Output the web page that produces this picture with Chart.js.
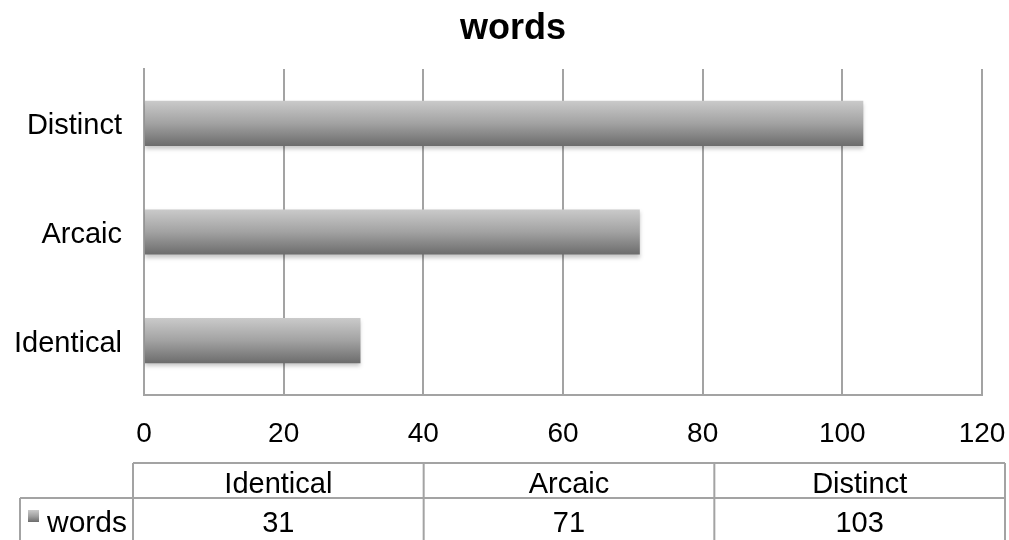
<!DOCTYPE html>
<html>
<head>
<meta charset="utf-8">
<title>words</title>
<script src="https://cdn.jsdelivr.net/npm/chart.js@4.4.1/dist/chart.umd.min.js"></script>
<style>
  html, body { margin: 0; padding: 0; background: #fff; }
  #wrap { width: 1009px; height: 540px; position: relative; }
</style>
</head>
<body>
<div id="wrap"><canvas id="chart" width="1009" height="540"></canvas></div>
<script>
// Word counts per category
const categories = ['Identical', 'Arcaic', 'Distinct'];
const seriesName = 'words';
const wordCounts = [31, 71, 103];
const xTicks = [0, 20, 40, 60, 80, 100, 120];

const FONT = '"Liberation Sans", Arial, Helvetica, sans-serif';
const LINE = '#a3a3a3';
const BAR_PCT = 0.415;

function barGradient(ctx, top, bottom) {
  const g = ctx.createLinearGradient(0, top, 0, bottom);
  g.addColorStop(0, '#cacaca');
  g.addColorStop(0.5, '#a2a2a2');
  g.addColorStop(1, '#6c6c6c');
  return g;
}

// Vertical gradient per bar, placed from the category scale
function barFill(ctx) {
  const chart = ctx.chart;
  const y = chart.scales && chart.scales.y;
  if (!y || ctx.dataIndex === undefined) return '#a2a2a2';
  const center = y.getPixelForValue(ctx.dataIndex);
  const half = (y.height / categories.length) * BAR_PCT / 2;
  if (!Number.isFinite(center) || !Number.isFinite(half)) return '#a2a2a2';
  return barGradient(chart.ctx, center - half, center + half);
}

// The category labels are long; let them use the space left of the padded layout
const labelRoom = {
  id: 'labelRoom',
  afterLayout(chart) {
    const y = chart.scales.y;
    y.left = 0;
    y.width = y.right;
  }
};

// Soft shadow under the bars
const barShadow = {
  id: 'barShadow',
  beforeDatasetDraw(chart) {
    const c = chart.ctx;
    c.save();
    c.shadowColor = 'rgba(0,0,0,0.22)';
    c.shadowBlur = 4;
    c.shadowOffsetY = 3;
  },
  afterDatasetDraw(chart) {
    chart.ctx.restore();
  }
};

// Data table below the axis, with the series key in the first column
const dataTable = {
  id: 'dataTable',
  afterDraw(chart) {
    const c = chart.ctx;
    const area = chart.chartArea;
    const left = area.left - 11;
    const right = chart.width - 4;
    const keyLeft = 20;
    const rowTop = 463;
    const rowMid = 498;
    const rowBottom = chart.height;
    const colW = (right - left) / categories.length;

    c.save();
    c.strokeStyle = LINE;
    c.lineWidth = 2;
    c.beginPath();
    c.moveTo(left, rowTop); c.lineTo(right, rowTop);
    c.moveTo(keyLeft, rowMid); c.lineTo(right, rowMid);
    for (let i = 0; i <= categories.length; i++) {
      const x = left + colW * i;
      c.moveTo(x, rowTop); c.lineTo(x, rowBottom);
    }
    c.moveTo(keyLeft, rowMid); c.lineTo(keyLeft, rowBottom);
    c.stroke();

    c.fillStyle = '#000';
    c.font = '29px ' + FONT;
    c.textAlign = 'center';
    c.textBaseline = 'middle';
    categories.forEach((cat, i) => {
      const cx = left + colW * (i + 0.5);
      c.fillText(cat, cx, 485);
      c.fillText(String(wordCounts[i]), cx, 524);
    });

    // series key
    c.fillStyle = barGradient(c, 510, 522);
    c.fillRect(28, 510, 11, 12);
    c.fillStyle = '#000';
    c.textAlign = 'left';
    c.font = '30px ' + FONT;
    c.fillText(seriesName, 47, 524);
    c.restore();
  }
};

const chart = new Chart(document.getElementById('chart'), {
  type: 'bar',
  data: {
    labels: categories,
    datasets: [{
      label: seriesName,
      data: wordCounts,
      backgroundColor: barFill,
      borderWidth: 0,
      categoryPercentage: 1,
      barPercentage: BAR_PCT
    }]
  },
  options: {
    indexAxis: 'y',
    responsive: false,
    animation: false,
    layout: { padding: { left: 44, right: 27, top: 0, bottom: 0 } },
    plugins: {
      legend: { display: false },
      tooltip: { enabled: false },
      title: {
        display: true,
        text: 'words',
        color: '#000',
        font: { family: FONT, size: 36, weight: 'bold', lineHeight: 1.2 },
        padding: { top: 7, bottom: 18.8 }
      }
    },
    scales: {
      x: {
        min: xTicks[0],
        max: xTicks[xTicks.length - 1],
        afterBuildTicks(scale) { scale.ticks = xTicks.map(v => ({ value: v })); },
        afterFit(scale) {
          scale.height = 145;
          scale.paddingLeft = 0;
          scale.paddingRight = 0;
        },
        grid: { color: LINE, lineWidth: 2, drawTicks: false },
        border: { display: true, color: LINE, width: 2 },
        ticks: {
          color: '#000',
          padding: 22,
          font: { family: FONT, size: 28 },
          maxRotation: 0,
          autoSkip: false
        }
      },
      y: {
        reverse: true,
        afterFit(scale) { scale.width = 100; },
        grid: { display: false, drawTicks: false },
        border: { display: true, color: LINE, width: 2 },
        ticks: {
          color: '#000',
          padding: 22,
          labelOffset: 3,
          font: { family: FONT, size: 29 }
        }
      }
    }
  },
  plugins: [labelRoom, barShadow, dataTable]
});
</script>
</body>
</html>
